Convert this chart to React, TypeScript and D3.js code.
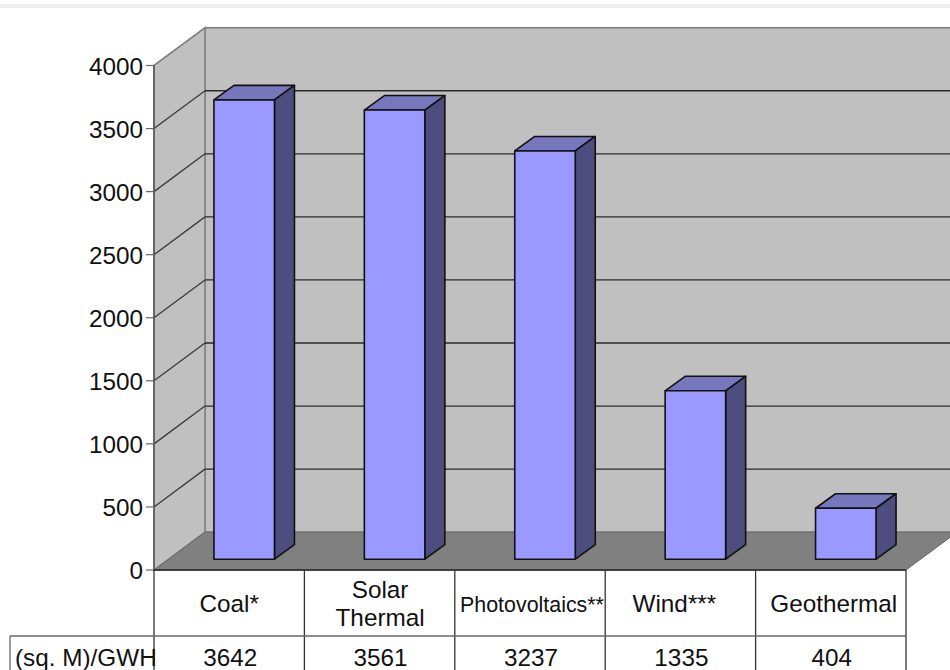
import React from "react";
import * as d3 from "d3";

const categories = ["Coal*", "Solar Thermal", "Photovoltaics**", "Wind***", "Geothermal"];
const values = [3642, 3561, 3237, 1335, 404];
const ticks = [0, 500, 1000, 1500, 2000, 2500, 3000, 3500, 4000];
const rowLabel = "(sq. M)/GWH";

const W = 950, H = 670;
const font = "'Liberation Sans', Arial, sans-serif";
const labelShift: Record<string, number> = { "Photovoltaics**": 2, "Wind***": -6, Geothermal: 3, "Coal*": 0 };

export default function App() {
  const y = d3.scaleLinear().domain([0, 4000]).range([570, 65.5]);
  const x = d3.scaleBand<string>().domain(categories).range([154, 906]);
  const depthX = 51, depthY = -37.8;
  const x0 = 154, x1 = 906, y0 = y(0);
  const pts = (p: number[][]) => p.map((q) => q.join(",")).join(" ");
  const barW = 60.5;
  const offY = -10.8, sideX = 20, sideY = -14.5;
  const tableY1 = 636;
  const edges = [...categories.map((c) => x(c)!), x1];
  const fs0 = 24.3;

  return (
    <svg width={W} height={H} style={{ position: "absolute", left: 0, top: 0, background: "#fff" }} fontFamily={font}>
      <rect x={0} y={4} width={W} height={4} fill="#eeeeee" />
      {/* back wall */}
      <rect x={x0 + depthX} y={y(4000) + depthY} width={W - x0 - depthX + 10} height={y0 - y(4000)} fill="#c0c0c0" stroke="#808080" strokeWidth={1.5} />
      {/* side wall */}
      <polygon points={pts([[x0, y0], [x0, y(4000)], [x0 + depthX, y(4000) + depthY], [x0 + depthX, y0 + depthY]])} fill="#c0c0c0" stroke="#808080" strokeWidth={1.5} />
      {/* floor */}
      <polygon points={pts([[x0, y0], [x1, y0], [x1 + depthX, y0 + depthY], [x0 + depthX, y0 + depthY]])} fill="#808080" stroke="#666" strokeWidth={1} />
      {/* gridlines */}
      {ticks.slice(1).map((t) => (
        <g key={t} fill="none">
          <line x1={x0} y1={y(t)} x2={x0 + depthX} y2={y(t) + depthY} stroke={t === 4000 ? "#808080" : "#3a3a3a"} strokeWidth={1.3} />
          <line x1={x0 + depthX} y1={y(t) + depthY} x2={W} y2={y(t) + depthY} stroke={t === 4000 ? "#808080" : "#2a2a2a"} strokeWidth={1.3} />
        </g>
      ))}
      {/* bars */}
      {categories.map((c, i) => {
        const bx = x(c)! + x.bandwidth() / 2 + 15 - barW / 2;
        const top = y(values[i]) + offY;
        const bot = y0 + offY;
        return (
          <g key={c} stroke="#111" strokeWidth={1.6} strokeLinejoin="round">
            <polygon points={pts([[bx, top], [bx + sideX, top + sideY], [bx + barW + sideX, top + sideY], [bx + barW, top]])} fill="#7777bd" />
            <polygon points={pts([[bx + barW, top], [bx + barW + sideX, top + sideY], [bx + barW + sideX, bot + sideY], [bx + barW, bot]])} fill="#4d4d80" />
            <rect x={bx} y={top} width={barW} height={bot - top} fill="#9999ff" />
          </g>
        );
      })}
      {/* axis */}
      <line x1={x0} y1={y(4000)} x2={x0} y2={y0} stroke="#555" strokeWidth={1.5} />
      {ticks.map((t) => (
        <g key={t}>
          <line x1={x0 - 8} y1={y(t)} x2={x0} y2={y(t)} stroke="#666" strokeWidth={1.2} />
          <text x={x0 - 11} y={y(t)} dy="0.38em" textAnchor="end" fontSize={fs0} fill="#111">{t}</text>
        </g>
      ))}
      {/* table */}
      <line x1={x0} y1={y0} x2={x1} y2={y0} stroke="#222" strokeWidth={1.5} />
      {edges.map((e) => (
        <line key={e} x1={e} y1={y0} x2={e} y2={H} stroke="#333" strokeWidth={1.3} />
      ))}
      <line x1={10} y1={tableY1} x2={x1} y2={tableY1} stroke="#666" strokeWidth={1.3} />
      <line x1={10} y1={tableY1} x2={10} y2={H} stroke="#666" strokeWidth={1.3} />
      <text x={15} y={666} fontSize={fs0} fill="#111">{rowLabel}</text>
      {categories.map((c, i) => {
        const cx = x(c)! + x.bandwidth() / 2;
        const parts = c === "Solar Thermal" ? c.split(" ") : [c];
        const fs = c === "Photovoltaics**" ? 21.4 : fs0;
        return (
          <g key={c} fill="#111" textAnchor="middle">
            {parts.length === 2 ? (
              <>
                <text x={cx + 0.5} y={598} fontSize={fs}>{parts[0]}</text>
                <text x={cx + 0.5} y={626} fontSize={fs}>{parts[1]}</text>
              </>
            ) : (
              <text x={cx + (labelShift[c] ?? 0)} y={612} fontSize={fs}>{c}</text>
            )}
            <text x={cx + 1} y={666} fontSize={fs0}>{values[i]}</text>
          </g>
        );
      })}
    </svg>
  );
}
